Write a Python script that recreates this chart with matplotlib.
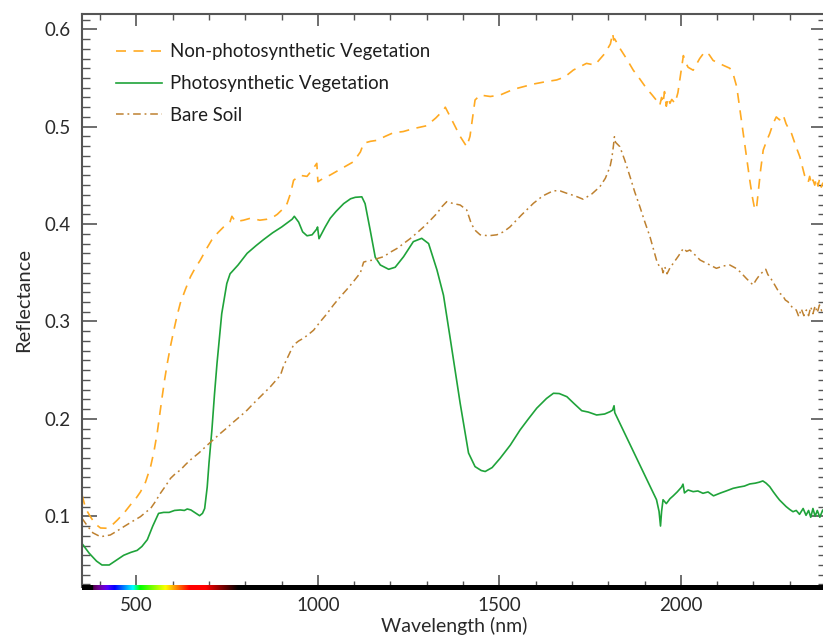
import matplotlib
matplotlib.use("Agg")
import matplotlib.pyplot as plt
import numpy as np
from matplotlib.ticker import MultipleLocator

# ---- data ----
npv_wl = [350, 360, 373, 387, 401, 419, 433, 447, 465, 484, 498, 511, 525, 539, 548, 557, 564, 571, 578, 585,
          594, 603, 612, 621, 635, 649, 662, 676, 692, 708, 724, 740, 758, 763, 773, 795, 814, 840, 860, 878,
          888, 902, 915, 925, 933, 951, 970, 985, 997, 1000, 1015, 1034, 1065, 1098, 1117, 1126, 1145, 1163, 1185, 1208,
          1235, 1263, 1300, 1325, 1346, 1351, 1369, 1392, 1410, 1419, 1433, 1447, 1475, 1502, 1539, 1565, 1594, 1625, 1658, 1680,
          1704, 1740, 1763, 1791, 1806, 1812, 1815, 1818, 1832, 1850, 1869, 1887, 1906, 1920, 1933, 1942, 1947, 1951, 1955, 1960,
          1965, 1970, 1975, 1984, 1992, 2000, 2007, 2013, 2020, 2034, 2052, 2066, 2078, 2089, 2100, 2117, 2135, 2145, 2154, 2163,
          2172, 2181, 2190, 2197, 2204, 2209, 2213, 2220, 2227, 2236, 2245, 2254, 2263, 2272, 2277, 2282, 2290, 2297, 2305, 2316,
          2328, 2341, 2346, 2351, 2355, 2360, 2364, 2369, 2373, 2378, 2382, 2387, 2391, 2396]
npv_refl = [0.122, 0.108, 0.0996, 0.092, 0.088, 0.0877, 0.091, 0.096, 0.103, 0.112, 0.118, 0.125, 0.135, 0.151, 0.166, 0.185, 0.204, 0.223, 0.241, 0.257,
            0.275, 0.291, 0.306, 0.319, 0.333, 0.346, 0.355, 0.363, 0.374, 0.384, 0.391, 0.397, 0.4025, 0.408, 0.4025, 0.404, 0.406, 0.404, 0.405, 0.4075,
            0.410, 0.415, 0.421, 0.432, 0.445, 0.450, 0.449, 0.456, 0.4624, 0.4435, 0.447, 0.4504, 0.457, 0.464, 0.474, 0.483, 0.485, 0.486, 0.490, 0.4938,
            0.495, 0.498, 0.501, 0.509, 0.517, 0.520, 0.507, 0.490, 0.4795, 0.490, 0.5274, 0.5325, 0.531, 0.5325, 0.5384, 0.541, 0.5438, 0.546, 0.548, 0.551,
            0.5582, 0.565, 0.5633, 0.5754, 0.585, 0.596, 0.589, 0.590, 0.5805, 0.570, 0.558, 0.549, 0.539, 0.533, 0.527, 0.522, 0.530, 0.524, 0.536, 0.521,
            0.530, 0.524, 0.528, 0.524, 0.535, 0.555, 0.573, 0.566, 0.561, 0.558, 0.570, 0.577, 0.574, 0.568, 0.566, 0.563, 0.560, 0.553, 0.541, 0.517,
            0.493, 0.469, 0.445, 0.428, 0.4145, 0.418, 0.432, 0.456, 0.476, 0.485, 0.493, 0.503, 0.510, 0.507, 0.510, 0.512, 0.503, 0.498, 0.493, 0.481,
            0.469, 0.450, 0.447, 0.443, 0.449, 0.441, 0.4453, 0.440, 0.447, 0.439, 0.446, 0.438, 0.442, 0.440]

pv_wl = [350, 370, 390, 405, 425, 445, 465, 485, 502, 515, 530, 545, 561, 575, 590, 605, 621, 632, 640, 650,
         660, 674, 682, 688, 695, 700, 708, 715, 722, 735, 749, 758, 763, 780, 805, 830, 850, 875, 900, 929,
         935, 947, 958, 970, 984, 997, 999, 1003, 1020, 1034, 1050, 1071, 1090, 1103, 1121, 1130, 1144, 1158, 1172, 1195,
         1213, 1236, 1263, 1286, 1305, 1328, 1346, 1364, 1392, 1415, 1433, 1450, 1461, 1480, 1502, 1530, 1557, 1580, 1603, 1630,
         1649, 1665, 1686, 1705, 1727, 1745, 1768, 1790, 1805, 1812, 1816, 1818, 1933, 1940, 1944, 1947, 1951, 1960, 1970, 1979,
         1990, 2002, 2006, 2010, 2020, 2034, 2047, 2061, 2075, 2090, 2110, 2125, 2144, 2160, 2175, 2190, 2205, 2216, 2226, 2235,
         2245, 2255, 2265, 2272, 2282, 2290, 2300, 2309, 2318, 2327, 2337, 2345, 2352, 2358, 2364, 2370, 2376, 2383, 2391, 2398]
pv_refl = [0.072, 0.062, 0.054, 0.050, 0.050, 0.055, 0.060, 0.063, 0.065, 0.069, 0.076, 0.090, 0.103, 0.104, 0.104, 0.106, 0.1065, 0.106, 0.1075, 0.1065,
           0.104, 0.1006, 0.103, 0.108, 0.130, 0.155, 0.189, 0.225, 0.257, 0.308, 0.339, 0.349, 0.351, 0.358, 0.370, 0.378, 0.384, 0.391, 0.397, 0.405,
           0.408, 0.402, 0.392, 0.388, 0.389, 0.395, 0.397, 0.385, 0.397, 0.406, 0.413, 0.421, 0.426, 0.4275, 0.428, 0.421, 0.394, 0.366, 0.358, 0.3536,
           0.3557, 0.3665, 0.382, 0.3854, 0.380, 0.353, 0.327, 0.284, 0.216, 0.165, 0.151, 0.147, 0.146, 0.150, 0.1595, 0.173, 0.1886, 0.200, 0.211, 0.221,
           0.2263, 0.226, 0.2228, 0.216, 0.2084, 0.207, 0.204, 0.205, 0.2074, 0.209, 0.2135, 0.2064, 0.117, 0.105, 0.090, 0.105, 0.117, 0.113, 0.118, 0.121,
           0.125, 0.130, 0.133, 0.124, 0.127, 0.1253, 0.126, 0.1236, 0.125, 0.121, 0.124, 0.126, 0.1287, 0.130, 0.131, 0.1332, 0.134, 0.135, 0.1363, 0.134,
           0.1304, 0.125, 0.120, 0.1167, 0.113, 0.110, 0.107, 0.1047, 0.106, 0.102, 0.108, 0.101, 0.106, 0.099, 0.108, 0.100, 0.106, 0.099, 0.1065, 0.101]

soil_wl = [350, 365, 380, 401, 428, 447, 465, 490, 511, 525, 539, 552, 566, 580, 594, 608, 621, 635, 649, 672,
           695, 713, 731, 750, 768, 787, 805, 823, 842, 869, 897, 905, 919, 933, 947, 961, 975, 988, 1007, 1025,
           1043, 1062, 1080, 1098, 1117, 1126, 1140, 1153, 1167, 1181, 1199, 1218, 1236, 1254, 1273, 1291, 1310, 1328, 1342, 1355,
           1374, 1392, 1410, 1423, 1435, 1447, 1470, 1493, 1511, 1529, 1560, 1594, 1620, 1649, 1668, 1686, 1708, 1731, 1755, 1777,
           1792, 1805, 1810, 1814, 1817, 1820, 1832, 1846, 1860, 1873, 1887, 1901, 1915, 1924, 1933, 1940, 1947, 1951, 1956, 1962,
           1970, 1979, 1993, 2007, 2016, 2025, 2040, 2053, 2075, 2098, 2117, 2135, 2150, 2163, 2181, 2199, 2208, 2217, 2226, 2234,
           2240, 2245, 2258, 2272, 2280, 2288, 2295, 2306, 2318, 2325, 2332, 2339, 2346, 2352, 2358, 2364, 2370, 2376, 2382, 2388,
           2394, 2399]
soil_refl = [0.098, 0.090, 0.083, 0.079, 0.0808, 0.085, 0.0893, 0.095, 0.0996, 0.104, 0.108, 0.115, 0.1236, 0.131, 0.139, 0.144, 0.1475, 0.153, 0.158, 0.165,
             0.173, 0.179, 0.185, 0.191, 0.197, 0.203, 0.209, 0.216, 0.223, 0.233, 0.245, 0.254, 0.265, 0.276, 0.280, 0.283, 0.287, 0.291, 0.300, 0.308,
             0.317, 0.3255, 0.333, 0.341, 0.350, 0.361, 0.3625, 0.363, 0.365, 0.3665, 0.371, 0.375, 0.380, 0.385, 0.391, 0.397, 0.404, 0.411, 0.418, 0.423,
             0.421, 0.4196, 0.4145, 0.400, 0.393, 0.389, 0.388, 0.389, 0.392, 0.397, 0.409, 0.4214, 0.429, 0.4343, 0.434, 0.4316, 0.429, 0.4255, 0.431, 0.4384,
             0.447, 0.459, 0.468, 0.4795, 0.4897, 0.484, 0.4795, 0.465, 0.4487, 0.433, 0.418, 0.402, 0.387, 0.375, 0.363, 0.357, 0.3563, 0.350, 0.356, 0.349,
             0.355, 0.3597, 0.367, 0.3751, 0.372, 0.3734, 0.368, 0.3631, 0.359, 0.3546, 0.357, 0.358, 0.355, 0.3511, 0.344, 0.3375, 0.343, 0.3477, 0.351, 0.3536,
             0.348, 0.346, 0.338, 0.329, 0.327, 0.322, 0.3203, 0.315, 0.3118, 0.305, 0.313, 0.306, 0.3118, 0.306, 0.315, 0.308, 0.316, 0.309, 0.317, 0.311,
             0.315, 0.311]

x_ticks = [500, 1000, 1500, 2000]
y_ticks = [0.1, 0.2, 0.3, 0.4, 0.5, 0.6]

FONT = ["Lato", "DejaVu Sans"]
plt.rcParams["font.family"] = FONT


def wavelength_to_rgb(wl):
    # rough visible-spectrum colour, black outside 380-780 nm
    if 380 <= wl < 440:
        r, g, b = -(wl - 440) / 60.0, 0.0, 1.0
    elif 440 <= wl < 490:
        r, g, b = 0.0, (wl - 440) / 50.0, 1.0
    elif 490 <= wl < 510:
        r, g, b = 0.0, 1.0, -(wl - 510) / 20.0
    elif 510 <= wl < 580:
        r, g, b = (wl - 510) / 70.0, 1.0, 0.0
    elif 580 <= wl < 645:
        r, g, b = 1.0, -(wl - 645) / 65.0, 0.0
    elif 645 <= wl <= 780:
        r, g, b = 1.0, 0.0, 0.0
    else:
        return (0.0, 0.0, 0.0)
    if wl < 420:
        f = 0.3 + 0.7 * (wl - 380) / 40.0
    elif wl > 690:
        f = max(0.0, 1.0 - (wl - 690) / 90.0)
    else:
        f = 1.0
    return (r * f, g * f, b * f)


W, H = 823, 635
fig = plt.figure(figsize=(W / 100, H / 100), dpi=100)
ax_l, ax_r, ax_t, ax_b = 82, 826, 14, 587
ax = fig.add_axes([ax_l / W, 1 - ax_b / H, (ax_r - ax_l) / W, (ax_b - ax_t) / H])

xlim = (350, 2400)
ylim = (0.0274, 0.6157)

ln_npv, = ax.plot(npv_wl, npv_refl, color="#FFAA22", lw=1.2, label="Non-photosynthetic Vegetation")
ln_npv.set_dashes((6, 4.5))
ax.plot(pv_wl, pv_refl, color="#1FA33A", lw=1.2, label="Photosynthetic Vegetation")
ln_soil, = ax.plot(soil_wl, soil_refl, color="#BE8130", lw=1.1, label="Bare Soil")
ln_soil.set_dashes((5, 2.5, 1.2, 2.5))

ax.set_xlim(*xlim)
ax.set_ylim(*ylim)
ax.set_xticks(x_ticks)
ax.set_yticks(y_ticks)
ax.set_yticklabels([f"{v:.1f}" for v in y_ticks])
ax.xaxis.set_minor_locator(MultipleLocator(100))
ax.yaxis.set_minor_locator(MultipleLocator(0.01))

spine_c = "#555555"
for s in ["left", "top", "right"]:
    ax.spines[s].set_color(spine_c)
    ax.spines[s].set_linewidth(1.5)
ax.spines["bottom"].set_visible(False)

ax.tick_params(axis="both", which="both", direction="in", colors=spine_c,
               labelcolor="#2a2a2a", labelsize=13.5)
ax.tick_params(axis="x", which="major", length=8.5, width=1.2, top=True, pad=7)
ax.tick_params(axis="x", which="minor", length=4.5, width=1.0, top=True)
ax.tick_params(axis="y", which="major", length=10.5, width=1.2, right=True, pad=8)
ax.tick_params(axis="y", which="minor", length=5.5, width=1.0, right=True)

ax.set_xlabel("Wavelength (nm)", fontsize=14, color="#2a2a2a", labelpad=2)
ax.set_ylabel("Reflectance", fontsize=14.5, color="#2a2a2a", labelpad=9)

leg = ax.legend(loc="upper left", bbox_to_anchor=((116 - ax_l) / (ax_r - ax_l), 0.949),
                frameon=False, fontsize=13.4, handlelength=2.47, handletextpad=0.45,
                labelspacing=0.8, borderpad=0, borderaxespad=0)
for t in leg.get_texts():
    t.set_color("#1e1e1e")

# spectrum bar along the bottom axis
bar = fig.add_axes([ax_l / W, 1 - 590 / H, (ax_r - ax_l) / W, 5 / H])
wls = np.linspace(xlim[0], xlim[1], 2000)
cols = np.array([wavelength_to_rgb(w) for w in wls])[None, :, :]
bar.imshow(cols, aspect="auto", extent=(xlim[0], xlim[1], 0, 1))
bar.set_axis_off()

fig.savefig("out.png", dpi=100)
